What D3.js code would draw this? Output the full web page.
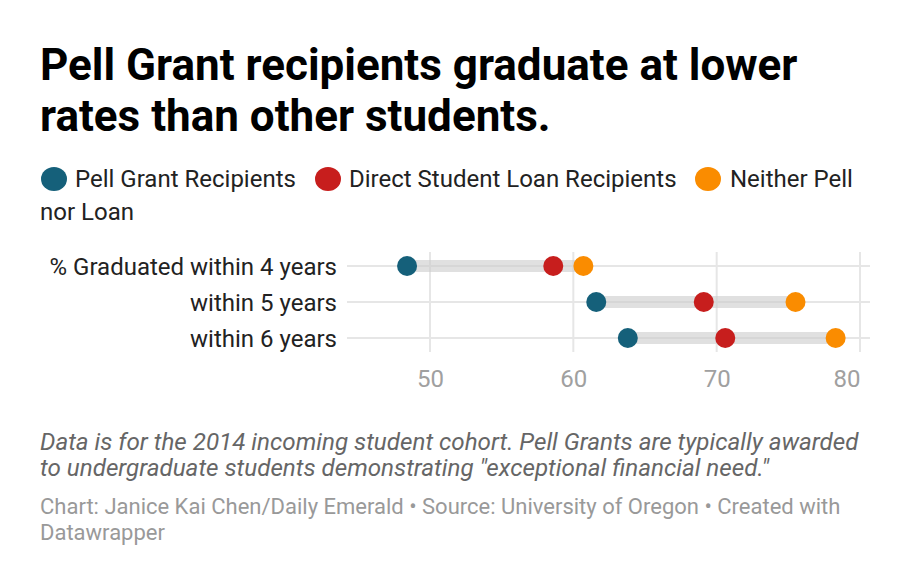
<!DOCTYPE html>
<html><head><meta charset="utf-8">
<script src="https://cdn.jsdelivr.net/npm/d3@7"></script>
<style>
body{margin:0;background:#fff;font-family:Roboto,"Noto Sans",sans-serif;}
svg{display:block}
</style></head>
<body><svg id="c" width="912" height="586"></svg>
<script>
const categories = ["% Graduated within 4 years", "within 5 years", "within 6 years"];
const seriesNames = ["Pell Grant Recipients", "Direct Student Loan Recipients", "Neither Pell nor Loan"];
const pell = [48.4, 61.6, 63.8];
const loan = [58.6, 69.1, 70.6];
const neither = [60.7, 75.5, 78.3];
const ticks = [50, 60, 70, 80];
const colors = ["#15607a", "#c71e1d", "#fa8c00"];

const svg = d3.select("#c");
const x = d3.scaleLinear().domain([50, 80]).range([430, 860]);
const y = d3.scaleBand().domain(categories).range([248, 356]).paddingInner(0).paddingOuter(0);
const yc = d => y(d) + y.bandwidth()/2;

// title
const title = svg.append("text").attr("x", 40).attr("font-weight", 700).attr("font-size", 44).attr("fill", "#000");
title.append("tspan").attr("x", 40).attr("y", 80).text("Pell Grant recipients graduate at lower");
title.append("tspan").attr("x", 40).attr("y", 131).text("rates than other students.");

// legend
const leg = svg.append("g").attr("font-size", 24);
const legItems = [
  {cx: 54, tx: 75, name: seriesNames[0], c: colors[0]},
  {cx: 328, tx: 349, name: seriesNames[1], c: colors[1]},
  {cx: 708, tx: 730, name: "Neither Pell", c: colors[2]}
];
legItems.forEach(d => {
  leg.append("ellipse").attr("cx", d.cx).attr("cy", 179).attr("rx", 13).attr("ry", 12).attr("fill", d.c);
  leg.append("text").attr("x", d.tx).attr("y", 187).attr("fill", "#222").text(d.name);
});
leg.append("text").attr("x", 40).attr("y", 220).attr("fill", "#222").text("nor Loan");

// gridlines
const g = svg.append("g");
g.selectAll("line.v").data(ticks).join("line")
  .attr("x1", d => x(d)).attr("x2", d => x(d)).attr("y1", 252).attr("y2", 352)
  .attr("stroke", "#e6e6e6").attr("stroke-width", 2);
g.selectAll("line.h").data(categories).join("line")
  .attr("x1", 347).attr("x2", 870).attr("y1", d => yc(d)).attr("y2", d => yc(d))
  .attr("stroke", "#e6e6e6").attr("stroke-width", 2);

// x axis labels
const xAxis = d3.axisBottom(x).tickValues(ticks).tickSize(0).tickPadding(0);
const ax = svg.append("g").attr("transform", "translate(0,370)").call(xAxis);
ax.select(".domain").remove();
ax.selectAll("text").attr("font-size", 24).attr("fill", "#a0a0a0").attr("font-family", "Roboto")
  .attr("text-anchor", (d, i) => i === ticks.length - 1 ? "end" : "middle");

// y labels
svg.append("g").selectAll("text").data(categories).join("text")
  .attr("x", 337).attr("y", d => yc(d) + 9).attr("text-anchor", "end")
  .attr("font-size", 24).attr("fill", "#222").text(d => d);

// range bands
const rows = categories.map((c, i) => ({c, vals: [pell[i], loan[i], neither[i]]}));
svg.append("g").selectAll("rect").data(rows).join("rect")
  .attr("x", d => x(d3.min(d.vals))).attr("width", d => x(d3.max(d.vals)) - x(d3.min(d.vals)))
  .attr("y", d => yc(d.c) - 6).attr("height", 12)
  .attr("fill", "#cccccc").attr("opacity", 0.6);

// dots
rows.forEach(r => {
  svg.append("g").selectAll("circle").data(r.vals).join("circle")
    .attr("cx", d => x(d)).attr("cy", yc(r.c)).attr("r", 10)
    .attr("fill", (d, i) => colors[i]);
});

// notes
const notes = svg.append("text").attr("font-size", 24.2).attr("font-style", "italic").attr("fill", "#666");
notes.append("tspan").attr("x", 40).attr("y", 450).text("Data is for the 2014 incoming student cohort. Pell Grants are typically awarded");
notes.append("tspan").attr("x", 40).attr("y", 476).text("to undergraduate students demonstrating \"exceptional financial need.\"");
const cred = svg.append("text").attr("font-size", 22).attr("fill", "#999");
cred.append("tspan").attr("x", 40).attr("y", 514).text("Chart: Janice Kai Chen/Daily Emerald \u2022 Source: University of Oregon \u2022 Created with");
cred.append("tspan").attr("x", 40).attr("y", 540).text("Datawrapper");
</script></body></html>
